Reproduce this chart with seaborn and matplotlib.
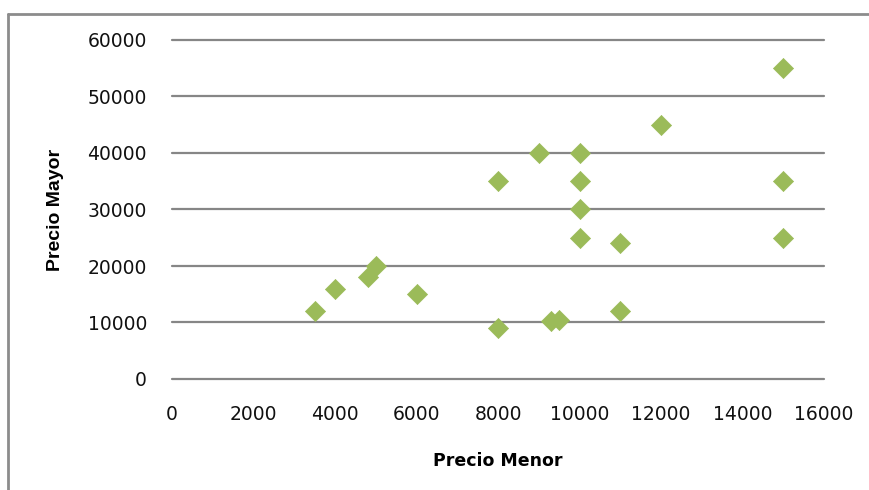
import matplotlib
matplotlib.use("Agg")
import matplotlib.pyplot as plt
from matplotlib.lines import Line2D
import seaborn as sns
import pandas as pd

# Precio menor (x) vs precio mayor (y)
precio_menor = [3500, 4000, 4800, 5000, 6000, 8000, 8000, 9000, 9300, 9500,
                10000, 10000, 10000, 10000, 11000, 11000, 12000, 15000, 15000, 15000]
precio_mayor = [12000, 16000, 18000, 20000, 15000, 35000, 9000, 40000, 10200, 10500,
                40000, 35000, 30000, 25000, 24000, 12000, 45000, 55000, 35000, 25000]

x_ticks = [0, 2000, 4000, 6000, 8000, 10000, 12000, 14000, 16000]
y_ticks = [0, 10000, 20000, 30000, 40000, 50000, 60000]

df = pd.DataFrame({"Precio Menor": precio_menor, "Precio Mayor": precio_mayor})

sns.set_theme(style="white")
plt.rcParams["font.family"] = ["DejaVu Sans"]

W, H = 869, 490
fig = plt.figure(figsize=(W / 100, H / 100), dpi=100)
left, right, top, bottom = 172, 824, 40, 379
ax = fig.add_axes([left / W, 1 - bottom / H, (right - left) / W, (bottom - top) / H])

grid_color = "#868686"
green = "#9BBB59"

sns.scatterplot(data=df, x="Precio Menor", y="Precio Mayor", ax=ax,
                marker="D", s=105, color=green, edgecolor=green, linewidth=0.5,
                zorder=3, legend=False)

ax.set_xlim(0, 16000)
ax.set_ylim(0, 60000)
ax.set_xticks(x_ticks)
ax.set_yticks(y_ticks)
ax.set_xticklabels([str(v) for v in x_ticks])
ax.set_yticklabels([str(v) for v in y_ticks])

for yv in y_ticks:
    ax.axhline(yv, color=grid_color, linewidth=1.6, zorder=1, clip_on=False)

for s in ax.spines.values():
    s.set_visible(False)

ax.tick_params(axis="x", length=0, pad=19, labelsize=13.5, labelcolor="#111111")
ax.tick_params(axis="y", length=0, pad=18, labelsize=13.5, labelcolor="#111111")

ax.set_xlabel("Precio Menor", fontsize=12.5, fontweight="bold", va="center",
              color="black")
ax.xaxis.set_label_coords(0.5, (bottom - 461) / (bottom - top))
ax.set_ylabel("Precio Mayor", fontsize=14, fontweight="bold", va="center",
              family="Liberation Sans", color="black")
ax.yaxis.set_label_coords((55 - left) / (right - left), 0.5)

# Chart area frame (left and top edges)
bx, by = 8 / W, 1 - 14 / H
fig.add_artist(Line2D([bx, 1.01], [by, by], transform=fig.transFigure,
                      color="#8c8c8c", linewidth=2))
fig.add_artist(Line2D([bx, bx], [-0.01, by], transform=fig.transFigure,
                      color="#8c8c8c", linewidth=2))

fig.savefig("out.png", dpi=100)
